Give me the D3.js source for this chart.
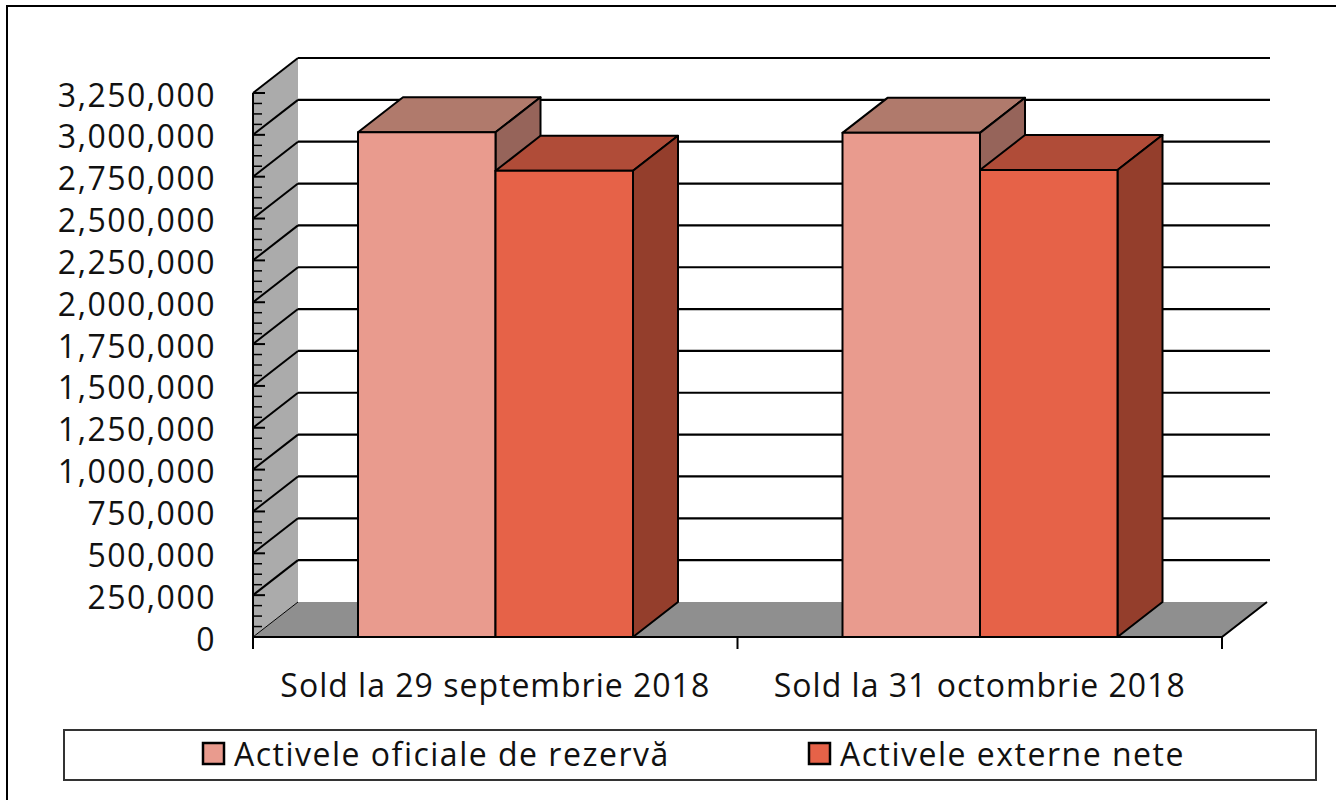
<!DOCTYPE html>
<html><head><meta charset="utf-8">
<script src="https://cdn.jsdelivr.net/npm/d3@7"></script>
<style>body{margin:0;background:#fff} text{font-family:"Open Sans",sans-serif;fill:#111}</style>
</head><body><svg id="c" width="1336" height="800"></svg>
<script>
// ---- data ----
const categories = ["Sold la 29 septembrie 2018", "Sold la 31 octombrie 2018"];
const seriesNames = ["Activele oficiale de rezervă", "Activele externe nete"];
const reserveAssets = [3015000, 3012000];
const netExternalAssets = [2785000, 2790000];
const yTicks = [0, 250000, 500000, 750000, 1000000, 1250000, 1500000, 1750000, 2000000, 2250000, 2500000, 2750000, 3000000, 3250000];
const yMinorStep = 62500;

// ---- styles ----
const colors = [
  {front: "#E99B8E", top: "#B07A6C", side: "#96645A"},
  {front: "#E66248", top: "#B04C38", side: "#943E2C"}
];

const svg = d3.select("#c");
const x0 = 253, x1 = 1222, dx = 45, dy = -35;
const y = d3.scaleLinear().domain([0, 3250000]).range([637, 93]);
const xCat = d3.scaleBand().domain(categories).range([x0, x1]);
const xSer = d3.scaleBand().domain(seriesNames).range([105, 380]);
const series = [reserveAssets, netExternalAssets];

// outer border
svg.append("rect").attr("x", 7).attr("y", 6).attr("width", 1340).attr("height", 810)
  .attr("fill", "none").attr("stroke", "#000").attr("stroke-width", 2);

const yMax = y.domain()[1];
// side wall
svg.append("polygon").attr("points", [[x0, y(0)], [x0, y(yMax)], [x0 + dx, y(yMax) + dy], [x0 + dx, y(0) + dy]].join(" "))
  .attr("fill", "#ababab");
svg.append("line").attr("x1", x0).attr("y1", y(yMax)).attr("x2", x0 + dx).attr("y2", y(yMax) + dy)
  .attr("stroke", "#f0f0f0").attr("stroke-width", 1.5);
// floor
svg.append("polygon").attr("points", [[x0, y(0)], [x0 + dx, y(0) + dy], [x1 + dx, y(0) + dy], [x1, y(0)]].join(" "))
  .attr("fill", "#8f8f8f");
svg.append("polyline").attr("points", [[x1 + dx, y(0) + dy], [x1, y(0)], [x0, y(0)]].join(" "))
  .attr("fill", "none").attr("stroke", "#000").attr("stroke-width", 2);

// gridlines
yTicks.forEach(t => {
  const yf = y(t), yb = y(t) + dy;
  svg.append("line").attr("x1", x0).attr("y1", yf).attr("x2", x0 + dx).attr("y2", yb)
    .attr("stroke", "#000").attr("stroke-width", t === 0 ? 1 : 2);
  if (t > 0) {
    svg.append("line").attr("x1", x0 + dx).attr("y1", yb).attr("x2", x1 + dx + 3).attr("y2", yb)
      .attr("stroke", "#000").attr("stroke-width", 2.2);
  }
});

// front axis line and ticks
svg.append("line").attr("x1", x0).attr("y1", y(yMax)).attr("x2", x0).attr("y2", y(0) + 12)
  .attr("stroke", "#000").attr("stroke-width", 2);
d3.range(0, yMax + 1, yMinorStep).forEach(t => {
  const major = yTicks.includes(t);
  svg.append("line").attr("x1", x0).attr("x2", x0 + (major ? 12 : 9)).attr("y1", y(t)).attr("y2", y(t))
    .attr("stroke", "#000").attr("stroke-width", major ? 2 : 1.5);
});
// category ticks
[x0, ...categories.map(c => xCat(c) + xCat.bandwidth())].forEach(xx => {
  svg.append("line").attr("x1", xx).attr("x2", xx).attr("y1", y(0)).attr("y2", y(0) + 12)
    .attr("stroke", "#000").attr("stroke-width", 2);
});

// y labels
svg.append("g").selectAll("text").data(yTicks).join("text")
  .attr("x", 216).attr("y", d => y(d) + 1).attr("text-anchor", "end").attr("dominant-baseline", "central")
  .attr("font-size", 32).attr("letter-spacing", 1.5).text(d => d3.format(",")(d));

// bars
categories.forEach((c, ci) => {
  seriesNames.forEach((s, si) => {
    const v = series[si][ci];
    const xl = xCat(c) + xSer(s), xr = xl + xSer.bandwidth();
    const yt = y(v), yb = y(0);
    const col = colors[si];
    const g = svg.append("g").attr("stroke", "#000").attr("stroke-width", 2).attr("stroke-linejoin", "round");
    g.append("polygon").attr("points", [[xl, yt], [xl + dx, yt + dy], [xr + dx, yt + dy], [xr, yt]].join(" ")).attr("fill", col.top);
    g.append("polygon").attr("points", [[xr, yt], [xr + dx, yt + dy], [xr + dx, yb + dy], [xr, yb]].join(" ")).attr("fill", col.side);
    g.append("rect").attr("x", xl).attr("y", yt).attr("width", xr - xl).attr("height", yb - yt).attr("fill", col.front);
  });
});

// category labels
svg.append("g").selectAll("text").data(categories).join("text")
  .attr("x", d => xCat(d) + xCat.bandwidth() / 2).attr("y", 697).attr("text-anchor", "middle")
  .attr("font-size", 32).attr("letter-spacing", 1).text(d => d);

// legend
svg.append("rect").attr("x", 64).attr("y", 730).attr("width", 1252).attr("height", 50)
  .attr("fill", "#fff").attr("stroke", "#333").attr("stroke-width", 2);
const legX = [203, 809];
seriesNames.forEach((s, i) => {
  svg.append("rect").attr("x", legX[i]).attr("y", 743).attr("width", 21).attr("height", 21)
    .attr("fill", colors[i].front).attr("stroke", "#000").attr("stroke-width", 2.5);
  svg.append("text").attr("x", legX[i] + 31).attr("y", 766).attr("font-size", 32).attr("letter-spacing", 1.5).text(s);
});
</script></body></html>
